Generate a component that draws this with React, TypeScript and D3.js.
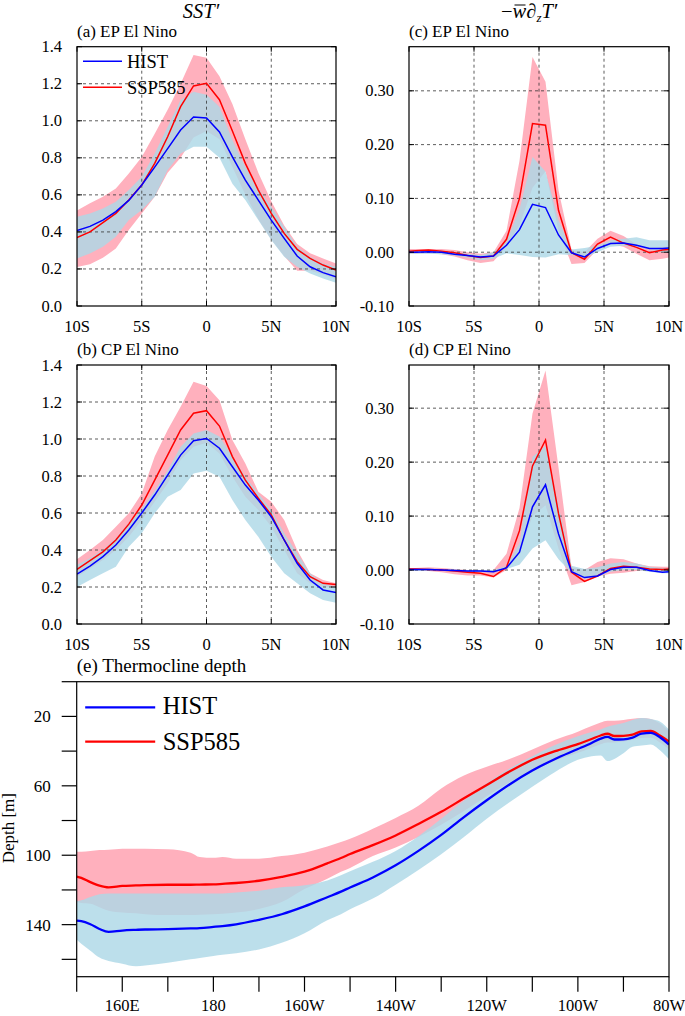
import React from 'react';
import * as d3 from 'd3';

// ---------- DATA ----------
const latInt = [-10, -9, -8, -7, -6, -5, -4, -3, -2, -1, 0, 1, 2, 3, 4, 5, 6, 7, 8, 9, 10];
const latHalf = [-10, -9.5, -8.5, -7.5, -6.5, -5.5, -4.5, -3.5, -2.5, -1.5, -0.5, 0.5, 1.5, 2.5, 3.5, 4.5, 5.5, 6.5, 7.5, 8.5, 9.5, 10];
const latTicks = [-10, -5, 0, 5, 10];
const latTickLabels = ['10S', '5S', '0', '5N', '10N'];
const sstTicks = [0, 0.2, 0.4, 0.6, 0.8, 1.0, 1.2, 1.4];
const wTicks = [-0.1, 0, 0.1, 0.2, 0.3];

// (a) EP SST'
const epSstHist = [0.407, 0.43, 0.464, 0.51, 0.57, 0.653, 0.75, 0.85, 0.95, 1.02, 1.015, 0.94, 0.805, 0.68, 0.572, 0.464, 0.365, 0.27, 0.212, 0.18, 0.158];
const epSstSsp = [0.37, 0.40, 0.45, 0.50, 0.572, 0.653, 0.77, 0.914, 1.076, 1.188, 1.202, 1.114, 0.945, 0.77, 0.626, 0.50, 0.392, 0.306, 0.257, 0.221, 0.194];
const epSstHistHi = [0.482, 0.50, 0.527, 0.563, 0.626, 0.698, 0.824, 0.968, 1.112, 1.157, 1.14, 1.076, 0.896, 0.752, 0.635, 0.536, 0.428, 0.32, 0.266, 0.23, 0.212];
const epSstHistLo = [0.257, 0.284, 0.32, 0.374, 0.464, 0.518, 0.59, 0.734, 0.824, 0.86, 0.86, 0.80, 0.66, 0.572, 0.464, 0.356, 0.266, 0.212, 0.176, 0.149, 0.126];
const epSstSspHi = [0.515, 0.555, 0.59, 0.635, 0.715, 0.805, 0.93, 1.06, 1.20, 1.355, 1.34, 1.24, 1.09, 0.90, 0.72, 0.565, 0.435, 0.335, 0.285, 0.257, 0.23];
const epSstSspLo = [0.21, 0.225, 0.26, 0.31, 0.41, 0.50, 0.59, 0.72, 0.80, 0.91, 0.945, 0.90, 0.75, 0.60, 0.47, 0.36, 0.27, 0.19, 0.19, 0.17, 0.145];

// (b) CP SST'
const cpSstHist = [0.27, 0.313, 0.364, 0.427, 0.508, 0.60, 0.697, 0.805, 0.913, 0.991, 1.003, 0.95, 0.85, 0.751, 0.67, 0.58, 0.454, 0.328, 0.238, 0.184, 0.17];
const cpSstSsp = [0.295, 0.342, 0.39, 0.454, 0.54, 0.643, 0.778, 0.913, 1.049, 1.139, 1.153, 1.07, 0.905, 0.778, 0.68, 0.59, 0.454, 0.337, 0.256, 0.22, 0.214];
const cpSstHistHi = [0.32, 0.355, 0.40, 0.463, 0.544, 0.625, 0.72, 0.83, 0.958, 1.03, 1.049, 1.013, 0.905, 0.796, 0.706, 0.616, 0.49, 0.382, 0.274, 0.22, 0.20];
const cpSstHistLo = [0.20, 0.238, 0.274, 0.31, 0.418, 0.49, 0.598, 0.688, 0.724, 0.814, 0.829, 0.796, 0.67, 0.562, 0.472, 0.364, 0.274, 0.22, 0.166, 0.13, 0.115];
const cpSstSspHi = [0.35, 0.40, 0.454, 0.526, 0.598, 0.706, 0.905, 1.049, 1.175, 1.31, 1.286, 1.21, 0.995, 0.868, 0.715, 0.661, 0.562, 0.40, 0.274, 0.238, 0.22];
const cpSstSspLo = [0.256, 0.30, 0.346, 0.40, 0.472, 0.562, 0.661, 0.76, 0.886, 0.958, 0.98, 0.922, 0.796, 0.688, 0.616, 0.526, 0.40, 0.274, 0.22, 0.20, 0.20];

// (c) EP -w dT/dz
const epWHist = [0, 0, 0.001, 0, -0.004, -0.006, -0.009, -0.007, 0.013, 0.042, 0.089, 0.083, 0.032, -0.001, -0.009, 0.007, 0.016, 0.017, 0.013, 0.007, 0.007, 0.008];
const epWSsp = [0.002, 0.0025, 0.004, 0.002, -0.001, -0.006, -0.01, -0.007, 0.024, 0.10, 0.239, 0.236, 0.078, -0.001, -0.013, 0.015, 0.028, 0.017, 0.009, -0.001, 0.004, 0.005];
const epWHistHi = [0.003, 0.003, 0.003, 0.002, 0.0, -0.003, -0.005, 0.0, 0.02, 0.08, 0.177, 0.15, 0.06, 0.005, 0.008, 0.012, 0.022, 0.025, 0.028, 0.022, 0.022, 0.022];
const epWHistLo = [-0.003, -0.003, -0.003, -0.004, -0.006, -0.01, -0.015, -0.012, -0.002, -0.005, -0.009, -0.01, -0.004, -0.005, -0.01, 0.0, 0.01, 0.012, 0.01, 0.005, 0.0, 0.0];
const epWSspHi = [0.006, 0.006, 0.006, 0.006, 0.004, 0.0, -0.003, 0.0, 0.04, 0.17, 0.363, 0.317, 0.115, 0.005, 0.0, 0.025, 0.04, 0.03, 0.015, 0.006, 0.01, 0.01];
const epWSspLo = [-0.003, -0.003, -0.002, -0.004, -0.008, -0.015, -0.02, -0.017, 0.01, 0.05, 0.12, 0.15, 0.04, -0.022, -0.02, 0.005, 0.015, 0.01, -0.003, -0.015, -0.012, -0.01];

// (d) CP -w dT/dz
const cpWHist = [0.001, 0.001, 0.001, 0, -0.001, -0.002, -0.002, -0.003, 0.004, 0.033, 0.117, 0.158, 0.067, -0.003, -0.014, -0.011, 0.001, 0.005, 0.005, -0.001, -0.004, -0.003];
const cpWSsp = [0.002, 0.002, 0.001, 0, -0.002, -0.004, -0.006, -0.012, 0.005, 0.073, 0.193, 0.241, 0.105, -0.004, -0.021, -0.011, 0.003, 0.007, 0.005, 0.002, 0.001, 0.002];
const cpWHistHi = [0.003, 0.003, 0.003, 0.002, 0.001, 0.0, 0.0, 0.0, 0.008, 0.05, 0.21, 0.23, 0.12, 0.008, 0.002, 0.005, 0.012, 0.015, 0.012, 0.006, 0.004, 0.004];
const cpWHistLo = [-0.002, -0.002, -0.002, -0.002, -0.003, -0.004, -0.004, -0.004, 0.002, 0.01, 0.04, 0.055, 0.02, -0.005, -0.016, -0.013, -0.003, 0.0, 0.0, -0.003, -0.006, -0.006];
const cpWSspHi = [0.004, 0.004, 0.005, 0.004, 0.002, 0.0, -0.002, 0.0, 0.03, 0.115, 0.29, 0.37, 0.19, 0.005, 0.0, 0.015, 0.022, 0.02, 0.012, 0.007, 0.006, 0.006];
const cpWSspLo = [-0.002, -0.002, -0.002, -0.004, -0.008, -0.01, -0.01, -0.014, 0.0, 0.03, 0.10, 0.12, 0.04, -0.028, -0.022, -0.012, -0.007, -0.005, -0.002, -0.001, -0.002, -0.002];

// (e) Thermocline depth (longitude in degrees east)
const lonE = [150, 151, 153, 155, 157, 160, 163, 165, 170, 175, 177, 180, 182, 185, 190, 195, 200, 205, 208, 210, 215, 220, 225, 230, 235, 240, 245, 250, 255, 260, 263, 265, 266.5, 268, 270, 272, 274, 276, 278, 280];
const thermHist = [137.7, 138, 139.8, 142.5, 144.2, 143.4, 143, 142.8, 142.6, 142.2, 142, 141.3, 140.8, 139.8, 137.2, 134, 129.5, 124.2, 121, 118.6, 112.8, 105.8, 97.5, 88.3, 78, 68.3, 59.2, 51.2, 44.5, 38.8, 35.3, 32.8, 31.8, 33.3, 33.2, 32.2, 29.9, 29.5, 32, 36.2];
const thermSsp = [112.3, 113, 115.5, 117.5, 118.5, 117.7, 117.4, 117.2, 117, 117, 116.9, 116.8, 116.5, 116, 114.7, 112.5, 109.5, 104.7, 101.6, 99.3, 94.2, 88.6, 82, 75, 67.2, 59.5, 51.8, 45, 40, 36, 33, 31, 30, 31.3, 31.2, 30.5, 28.6, 28.4, 31, 34.5];
const thermHistHi = [126.5, 126, 124, 122.5, 122, 122, 122, 122, 122, 122, 122, 122, 122, 121.5, 120.5, 118.5, 117.3, 114.5, 111.5, 109.3, 103.8, 97.5, 89, 79, 68.5, 58.5, 50, 43, 36.5, 31.5, 29, 27.5, 26, 25, 23.8, 22, 20.9, 21.5, 23, 27.6];
const thermHistLo = [148.6, 151, 155, 159, 161, 162.5, 164, 163.5, 161.9, 160, 159.2, 158, 157.3, 156.5, 154.3, 150.5, 145, 137.5, 134, 131.2, 125, 117, 108.5, 99.5, 89.5, 79, 69.5, 60.5, 52, 45, 43, 42.5, 45.7, 44.5, 41.2, 37.5, 36.8, 36.2, 39.5, 44.7];
const thermSspHi = [98, 98, 97.5, 97, 96.8, 96.2, 96.2, 96.3, 96.5, 98.5, 101, 101.5, 101, 102, 102, 100.5, 98.5, 95, 92.4, 90.5, 84.7, 78.5, 71.5, 61.5, 54, 49, 44.5, 39, 33.5, 28.8, 25.5, 23.5, 22.5, 22.5, 22, 21.4, 20.9, 21.5, 24, 28.6];
const thermSspLo = [127, 127.5, 128, 130, 132, 133, 133.5, 134, 134.5, 134.5, 134.3, 134, 133.7, 133, 131, 127, 119.5, 113.5, 109.5, 107.3, 100.5, 95.5, 89.5, 82.5, 74.5, 66, 58, 51, 45.5, 41, 38, 36, 35, 35, 34.5, 33.5, 32.5, 32.3, 35, 39];

const lonTicks = [150, 160, 170, 180, 190, 200, 210, 220, 230, 240, 250, 260, 270, 280];
const lonLabelTicks = [160, 180, 200, 220, 240, 260, 280];
const lonLabels = ['160E', '180', '160W', '140W', '120W', '100W', '80W'];
const depthTicks = [0, 20, 40, 60, 80, 100, 120, 140, 160];
const depthLabelTicks = [20, 60, 100, 140];

const seriesNames = ['HIST', 'SSP585'];

// ---------- STYLE ----------
const FONT = "'Liberation Serif', 'Times New Roman', serif";
const RED = '#ff0000';
const BLUE = '#0000ff';
const PINK = '#ffb0bd';
const LBLUE = '#add8e6';

type PanelProps = {
  id: string;
  left: number; top: number; width: number; height: number;
  lat: number[];
  hist: number[]; ssp: number[];
  histLo: number[]; histHi: number[];
  sspLo: number[]; sspHi: number[];
  yDomain: [number, number];
  yTicks: number[];
  yFmt: (v: number) => string;
  title: string;
  legend?: boolean;
};

function LatPanel(p: PanelProps) {
  const x = d3.scaleLinear().domain([-10, 10]).range([p.left, p.left + p.width]);
  const y = d3.scaleLinear().domain(p.yDomain).range([p.top + p.height, p.top]);
  const band = (lo: number[], hi: number[]) =>
    d3.area<number>().x((d) => x(d)).y0((_, i) => y(lo[i])).y1((_, i) => y(hi[i]))(p.lat) || '';
  const line = (v: number[]) => d3.line<number>().x((d) => x(d)).y((_, i) => y(v[i]))(p.lat) || '';
  const x0 = p.left, x1 = p.left + p.width, y0 = p.top, y1 = p.top + p.height;
  const tk = 5;
  return (
    <g>
      <defs>
        <clipPath id={p.id}>
          <rect x={x0} y={y0} width={p.width} height={p.height} />
        </clipPath>
      </defs>
      <g clipPath={`url(#${p.id})`}>
        <path d={band(p.sspLo, p.sspHi)} fill={PINK} stroke="none" />
        <path d={band(p.histLo, p.histHi)} fill={LBLUE} fillOpacity={0.82} stroke="none" />
      </g>
      {/* grid */}
      {latTicks.filter((t) => t > -10 && t < 10).map((t) => (
        <line key={'gx' + t} x1={x(t)} x2={x(t)} y1={y0} y2={y1} stroke="#333" strokeWidth={0.8} strokeDasharray="3,3" />
      ))}
      {p.yTicks.filter((t) => y(t) > y0 + 1 && y(t) < y1 - 1).map((t) => (
        <line key={'gy' + t} x1={x0} x2={x1} y1={y(t)} y2={y(t)} stroke="#333" strokeWidth={0.8} strokeDasharray="3,3" />
      ))}
      <g clipPath={`url(#${p.id})`}>
        <path d={line(p.ssp)} fill="none" stroke={RED} strokeWidth={1.5} />
        <path d={line(p.hist)} fill="none" stroke={BLUE} strokeWidth={1.5} />
      </g>
      {/* ticks inward */}
      {latTicks.map((t) => (
        <g key={'tx' + t}>
          <line x1={x(t)} x2={x(t)} y1={y1} y2={y1 - tk} stroke="#000" strokeWidth={1} />
          <line x1={x(t)} x2={x(t)} y1={y0} y2={y0 + tk} stroke="#000" strokeWidth={1} />
        </g>
      ))}
      {p.yTicks.map((t) => (
        <g key={'ty' + t}>
          <line x1={x0} x2={x0 + tk} y1={y(t)} y2={y(t)} stroke="#000" strokeWidth={1} />
          <line x1={x1} x2={x1 - tk} y1={y(t)} y2={y(t)} stroke="#000" strokeWidth={1} />
        </g>
      ))}
      <rect x={x0} y={y0} width={p.width} height={p.height} fill="none" stroke="#000" strokeWidth={1.2} />
      {/* labels */}
      {latTicks.map((t, i) => (
        <text key={'lx' + t} x={x(t)} y={y1 + 26} textAnchor="middle" fontSize={16.5} fontFamily={FONT} fill="#000">
          {latTickLabels[i]}
        </text>
      ))}
      {p.yTicks.map((t) => (
        <text key={'ly' + t} x={x0 - 15} y={y(t) + 5.5} textAnchor="end" fontSize={16.5} fontFamily={FONT} fill="#000">
          {p.yFmt(t)}
        </text>
      ))}
      <text x={x0} y={y0 - 10} fontSize={17} fontFamily={FONT} fill="#000">{p.title}</text>
      {p.legend && (
        <g>
          <line x1={x0 + 6} x2={x0 + 45} y1={y0 + 14.5} y2={y0 + 14.5} stroke={BLUE} strokeWidth={1.5} />
          <text x={x0 + 50} y={y0 + 20.8} fontSize={18.5} fontFamily={FONT} fill="#000">{seriesNames[0]}</text>
          <line x1={x0 + 6} x2={x0 + 45} y1={y0 + 40.6} y2={y0 + 40.6} stroke={RED} strokeWidth={1.5} />
          <text x={x0 + 50} y={y0 + 46.9} fontSize={18.5} fontFamily={FONT} fill="#000">{seriesNames[1]}</text>
        </g>
      )}
    </g>
  );
}

function ThermoPanel() {
  const left = 76.7, right = 669, top = 681.7, bottom = 976.7;
  const x = d3.scaleLinear().domain([150, 280]).range([left, right]);
  const y = d3.scaleLinear().domain([0, 170]).range([top, bottom]);
  const band = (lo: number[], hi: number[]) =>
    d3.area<number>().curve(d3.curveMonotoneX).x((d) => x(d)).y0((_, i) => y(lo[i])).y1((_, i) => y(hi[i]))(lonE) || '';
  const line = (v: number[]) => d3.line<number>().curve(d3.curveMonotoneX).x((d) => x(d)).y((_, i) => y(v[i]))(lonE) || '';
  const tl = 15;
  return (
    <g>
      <defs>
        <clipPath id="clipE">
          <rect x={left} y={top} width={right - left} height={bottom - top} />
        </clipPath>
      </defs>
      <g clipPath="url(#clipE)">
        <path d={band(thermSspLo, thermSspHi)} fill={PINK} />
        <path d={band(thermHistLo, thermHistHi)} fill={LBLUE} fillOpacity={0.82} />
        <path d={line(thermSsp)} fill="none" stroke={RED} strokeWidth={2.3} />
        <path d={line(thermHist)} fill="none" stroke={BLUE} strokeWidth={2.3} />
      </g>
      <rect x={left} y={top} width={right - left} height={bottom - top} fill="none" stroke="#000" strokeWidth={1.2} />
      {depthTicks.map((t) => (
        <line key={'dt' + t} x1={left - tl} x2={left} y1={y(t)} y2={y(t)} stroke="#000" strokeWidth={1.2} />
      ))}
      {lonTicks.map((t) => (
        <line key={'lt' + t} x1={x(t)} x2={x(t)} y1={bottom} y2={bottom + tl} stroke="#000" strokeWidth={1.2} />
      ))}
      {depthLabelTicks.map((t) => (
        <text key={'dl' + t} x={left - 26} y={y(t) + 6} textAnchor="end" fontSize={17} fontFamily={FONT} fill="#000">{t}</text>
      ))}
      {lonLabelTicks.map((t, i) => (
        <text key={'ll' + t} x={x(t)} y={bottom + 34.5} textAnchor="middle" fontSize={16.5} fontFamily={FONT} fill="#000">{lonLabels[i]}</text>
      ))}
      <text transform={`translate(13.5,${(top + bottom) / 2 - 1}) rotate(-90)`} textAnchor="middle" fontSize={17} fontFamily={FONT} fill="#000">Depth [m]</text>
      <text x={left} y={top - 10} fontSize={19} fontFamily={FONT} fill="#000">(e) Thermocline depth</text>
      <line x1={left + 8.5} x2={left + 78.5} y1={top + 25.6} y2={top + 25.6} stroke={BLUE} strokeWidth={2.2} />
      <text x={left + 86} y={top + 32.3} fontSize={24.5} fontFamily={FONT} fill="#000">{seriesNames[0]}</text>
      <line x1={left + 8.5} x2={left + 78.5} y1={top + 60} y2={top + 60} stroke={RED} strokeWidth={2.2} />
      <text x={left + 86} y={top + 68.3} fontSize={24.5} fontFamily={FONT} fill="#000">{seriesNames[1]}</text>
    </g>
  );
}

export default function App() {
  const sstFmt = (v: number) => v.toFixed(1);
  const wFmt = (v: number) => v.toFixed(2);
  const W = 685, H = 1016;
  return (
    <svg width={W} height={H} viewBox={`0 0 ${W} ${H}`} style={{ position: 'absolute', left: 0, top: 0, background: '#fff' }}>
      <rect x={0} y={0} width={W} height={H} fill="#fff" />
      {/* column headers */}
      <text x={201} y={18.3} textAnchor="middle" fontSize={20.5} fontStyle="italic" fontFamily={FONT} fill="#000">SST′</text>
      <g fontFamily={FONT} fill="#000">
        <text x={501} y={18.3} fontSize={20.5}>
          <tspan>−</tspan>
          <tspan fontStyle="italic">w</tspan>
          <tspan>∂</tspan>
          <tspan fontStyle="italic" fontSize={13} dy={4}>z</tspan>
          <tspan fontStyle="italic" dy={-4}>T′</tspan>
        </text>
        <line x1={514.5} x2={525.5} y1={5} y2={5} stroke="#000" strokeWidth={1} />
      </g>
      <LatPanel id="clipA" left={77} top={46.7} width={259} height={259.3} lat={latInt}
        hist={epSstHist} ssp={epSstSsp} histLo={epSstHistLo} histHi={epSstHistHi} sspLo={epSstSspLo} sspHi={epSstSspHi}
        yDomain={[0, 1.4]} yTicks={sstTicks} yFmt={sstFmt} title="(a) EP El Nino" legend />
      <LatPanel id="clipC" left={409} top={46.7} width={260} height={259.3} lat={latHalf}
        hist={epWHist} ssp={epWSsp} histLo={epWHistLo} histHi={epWHistHi} sspLo={epWSspLo} sspHi={epWSspHi}
        yDomain={[-0.1, 0.382]} yTicks={wTicks} yFmt={wFmt} title="(c) EP El Nino" />
      <LatPanel id="clipB" left={77} top={365} width={259} height={259} lat={latInt}
        hist={cpSstHist} ssp={cpSstSsp} histLo={cpSstHistLo} histHi={cpSstHistHi} sspLo={cpSstSspLo} sspHi={cpSstSspHi}
        yDomain={[0, 1.4]} yTicks={sstTicks} yFmt={sstFmt} title="(b) CP El Nino" />
      <LatPanel id="clipD" left={409} top={365} width={260} height={259} lat={latHalf}
        hist={cpWHist} ssp={cpWSsp} histLo={cpWHistLo} histHi={cpWHistHi} sspLo={cpWSspLo} sspHi={cpWSspHi}
        yDomain={[-0.1, 0.38]} yTicks={wTicks} yFmt={wFmt} title="(d) CP El Nino" />
      <ThermoPanel />
    </svg>
  );
}
